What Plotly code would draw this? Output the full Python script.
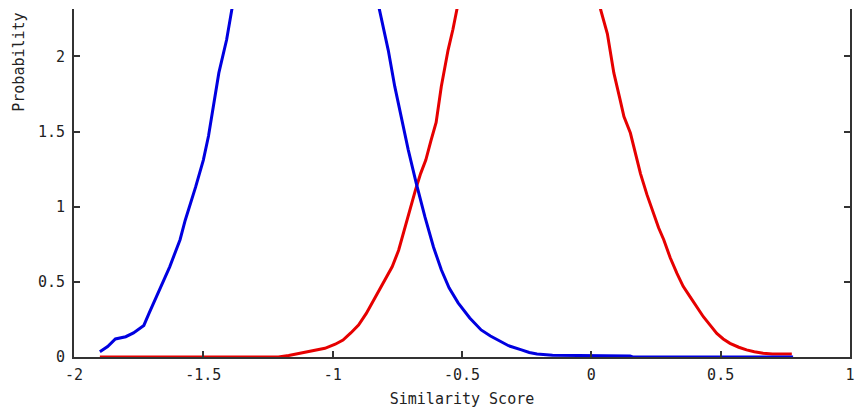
import plotly.graph_objects as go

# Similarity score histograms (probability density)
blue_x = [-1.90, -1.87, -1.84, -1.80, -1.77, -1.73, -1.71, -1.67, -1.63, -1.59, -1.57, -1.53,
          -1.50, -1.48, -1.46, -1.44, -1.41, -1.39, -1.30, -1.20, -1.10, -1.00, -0.90, -0.82,
          -0.785, -0.76, -0.733, -0.708, -0.676, -0.643, -0.61, -0.58, -0.55, -0.515, -0.47,
          -0.426, -0.39, -0.36, -0.32, -0.27, -0.24, -0.21, -0.15, -0.05, 0.05, 0.15, 0.16, 0.40, 0.78]
blue_y = [0.035, 0.07, 0.12, 0.135, 0.16, 0.21, 0.29, 0.45, 0.60, 0.78, 0.91, 1.13,
          1.31, 1.47, 1.67, 1.89, 2.11, 2.31, 3.00, 3.65, 3.90, 3.60, 2.95, 2.31,
          2.04, 1.80, 1.58, 1.38, 1.15, 0.93, 0.73, 0.58, 0.46, 0.36, 0.26,
          0.18, 0.14, 0.11, 0.075, 0.047, 0.03, 0.02, 0.012, 0.01, 0.008, 0.006, 0.0, 0.0, 0.0]

red_x = [-1.90, -1.50, -1.21, -1.17, -1.13, -1.08, -1.03, -0.99, -0.96, -0.93, -0.90, -0.87,
         -0.84, -0.80, -0.77, -0.745, -0.72, -0.70, -0.68, -0.66, -0.64, -0.62, -0.60, -0.58,
         -0.567, -0.554, -0.535, -0.52, -0.40, -0.30, -0.20, -0.10, 0.00, 0.036, 0.062, 0.087,
         0.11, 0.126, 0.151, 0.17, 0.19, 0.215, 0.241, 0.26, 0.28, 0.305, 0.331, 0.355, 0.382,
         0.41, 0.433, 0.46, 0.485, 0.51, 0.536, 0.57, 0.60, 0.63, 0.664, 0.70, 0.74, 0.775]
red_y = [0.0, 0.0, 0.0, 0.01, 0.025, 0.04, 0.058, 0.085, 0.113, 0.16, 0.213, 0.29,
         0.38, 0.50, 0.60, 0.71, 0.87, 0.98, 1.11, 1.22, 1.31, 1.44, 1.56, 1.80,
         1.93, 2.04, 2.18, 2.31, 3.20, 3.70, 3.85, 3.60, 2.90, 2.31, 2.15, 1.89,
         1.72, 1.60, 1.49, 1.35, 1.22, 1.08, 0.956, 0.86, 0.78, 0.66, 0.556, 0.47, 0.40,
         0.33, 0.268, 0.21, 0.157, 0.12, 0.091, 0.065, 0.047, 0.035, 0.025, 0.02, 0.02, 0.02]

x_tick_vals = [-2, -1.5, -1, -0.5, 0, 0.5, 1]
x_tick_text = ["-2", "-1.5", "-1", "-0.5", "0", "0.5", "1"]
y_tick_vals = [0, 0.5, 1, 1.5, 2]
y_tick_text = ["0", "0.5", "1", "1.5", "2"]

FONT = "DejaVu Sans Mono"
AXC = "#333333"

fig = go.Figure()
fig.add_trace(go.Scatter(x=red_x, y=red_y, mode="lines",
                         line=dict(color="#e60000", width=3), showlegend=False))
fig.add_trace(go.Scatter(x=blue_x, y=blue_y, mode="lines",
                         line=dict(color="#0000e0", width=3), showlegend=False))

fig.update_layout(
    width=858, height=416,
    margin=dict(l=74, r=3, t=9, b=59),
    paper_bgcolor="white", plot_bgcolor="white",
    font=dict(family=FONT, size=15, color="#222222"),
    showlegend=False,
)
fig.update_xaxes(
    range=[-2, 1], tickvals=x_tick_vals, ticktext=x_tick_text,
    showgrid=False, zeroline=False, showline=True, linecolor=AXC, linewidth=2,
    ticks="inside", ticklen=6, tickcolor=AXC, tickwidth=1.5, mirror=False,
    ticklabelstandoff=3,
    title=dict(text="Similarity Score", standoff=10, font=dict(family=FONT, size=15)),
)
fig.update_yaxes(
    range=[0, 2.315], tickvals=y_tick_vals, ticktext=y_tick_text,
    showgrid=False, zeroline=False, showline=True, linecolor=AXC, linewidth=2,
    ticks="inside", ticklen=6, tickcolor=AXC, tickwidth=1.5, mirror="ticks",
    ticklabelstandoff=4,
)
fig.add_annotation(
    text="Probability", textangle=-90, xref="paper", yref="paper",
    x=-0.072, y=0.846, xanchor="center", yanchor="middle", showarrow=False,
    font=dict(family=FONT, size=15, color="#222222"),
)

fig.write_html("out.html")
